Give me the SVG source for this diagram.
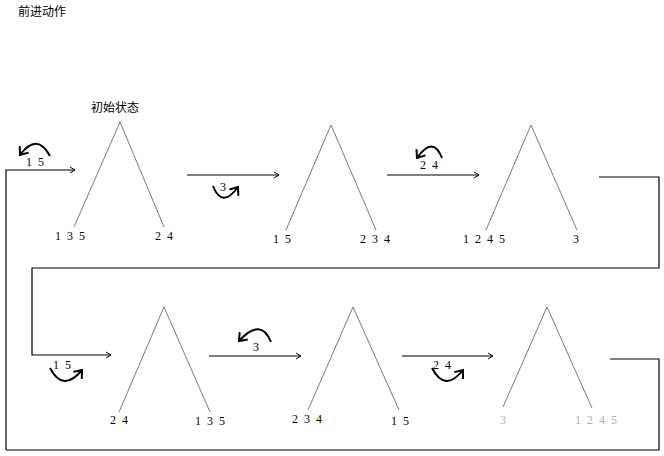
<svg xmlns="http://www.w3.org/2000/svg" width="664" height="456" viewBox="0 0 664 456">
<defs>
<style>
.tri{fill:none;stroke:#7a7a7a;stroke-width:1}
.con{fill:none;stroke:#000;stroke-width:1.2}
.rot{fill:none;stroke:#000;stroke-width:2}
.t{font-family:"Liberation Serif","DejaVu Serif",serif;font-size:12px;fill:#000;word-spacing:3px}
.cjk{font-family:"Noto Sans CJK SC","Noto Sans",sans-serif;font-size:12px;fill:#000}
.faded{fill:#b0b0b0}
</style>
<marker id="ah" markerWidth="10" markerHeight="10" refX="8" refY="5" orient="auto" markerUnits="userSpaceOnUse">
<path d="M3,2 L8,5 L3,8" fill="none" stroke="#000" stroke-width="1"/>
</marker>
<marker id="rh" markerWidth="14" markerHeight="14" refX="10" refY="7" orient="auto" markerUnits="userSpaceOnUse">
<path d="M3,1.5 L10,7 L3,12.5" fill="none" stroke="#000" stroke-width="2"/>
</marker>
</defs>
<rect width="664" height="456" fill="#fff"/>
<text class="cjk" x="18" y="16">前进动作</text>

<g id="connectors">
<path class="con" d="M6,450 L6,170 L75,170" marker-end="url(#ah)"/>
<path class="con" d="M187,175 L279,175" marker-end="url(#ah)"/>
<path class="con" d="M387,175 L479,175" marker-end="url(#ah)"/>
<path class="con" d="M599,177 L659,177 L659,268 L32,268 L32,355 L111,355" marker-end="url(#ah)"/>
<path class="con" d="M209,356 L301,356" marker-end="url(#ah)"/>
<path class="con" d="M402,356 L493,356" marker-end="url(#ah)"/>
<path class="con" d="M610,359 L659,359 L659,450 L6,450"/>
</g>

<g id="rotations">
<path class="rot" d="M50,156 Q37,132 20,155" marker-end="url(#rh)"/>
<text class="t" x="26" y="166">1 5</text>
<path class="rot" d="M213,186 Q222,209 238,187" marker-end="url(#rh)"/>
<text class="t" x="220" y="191" font-size="11">3</text>
<path class="rot" d="M442,158 Q433,135 417,158" marker-end="url(#rh)"/>
<text class="t" x="420" y="169">2 4</text>
<path class="rot" d="M50,368 Q63,393 82,370" marker-end="url(#rh)"/>
<text class="t" x="53" y="369">1 5</text>
<path class="rot" d="M271,342 Q261,317 239,341" marker-end="url(#rh)"/>
<text class="t" x="253" y="351">3</text>
<path class="rot" d="M432,368 Q445,393 463,370" marker-end="url(#rh)"/>
<text class="t" x="433" y="369">2 4</text>
</g>

<g id="state1">
<text class="cjk" x="91" y="112">初始状态</text>
<path class="tri" d="M74,227 L120,122 L164,227"/>
<text class="t" x="55" y="240">1 3 5</text>
<text class="t" x="155" y="240">2 4</text>
</g>

<g id="state2">
<path class="tri" d="M286,230 L331,125 L376,230"/>
<text class="t" x="273" y="243">1 5</text>
<text class="t" x="360" y="243">2 3 4</text>
</g>

<g id="state3">
<path class="tri" d="M486,230 L531,125 L577,230"/>
<text class="t" x="463" y="243">1 2 4 5</text>
<text class="t" x="573" y="243">3</text>
</g>

<g id="state4">
<path class="tri" d="M119,412 L164,307 L210,412"/>
<text class="t" x="110" y="424">2 4</text>
<text class="t" x="195" y="425">1 3 5</text>
</g>

<g id="state5">
<path class="tri" d="M308,410 L353,307 L399,410"/>
<text class="t" x="292" y="423">2 3 4</text>
<text class="t" x="391" y="425">1 5</text>
</g>

<g id="state6">
<path class="tri" d="M503,407 L547,307 L592,408"/>
<text class="t faded" x="500" y="424">3</text>
<text class="t faded" x="575" y="424">1 2 4 5</text>
</g>
</svg>
